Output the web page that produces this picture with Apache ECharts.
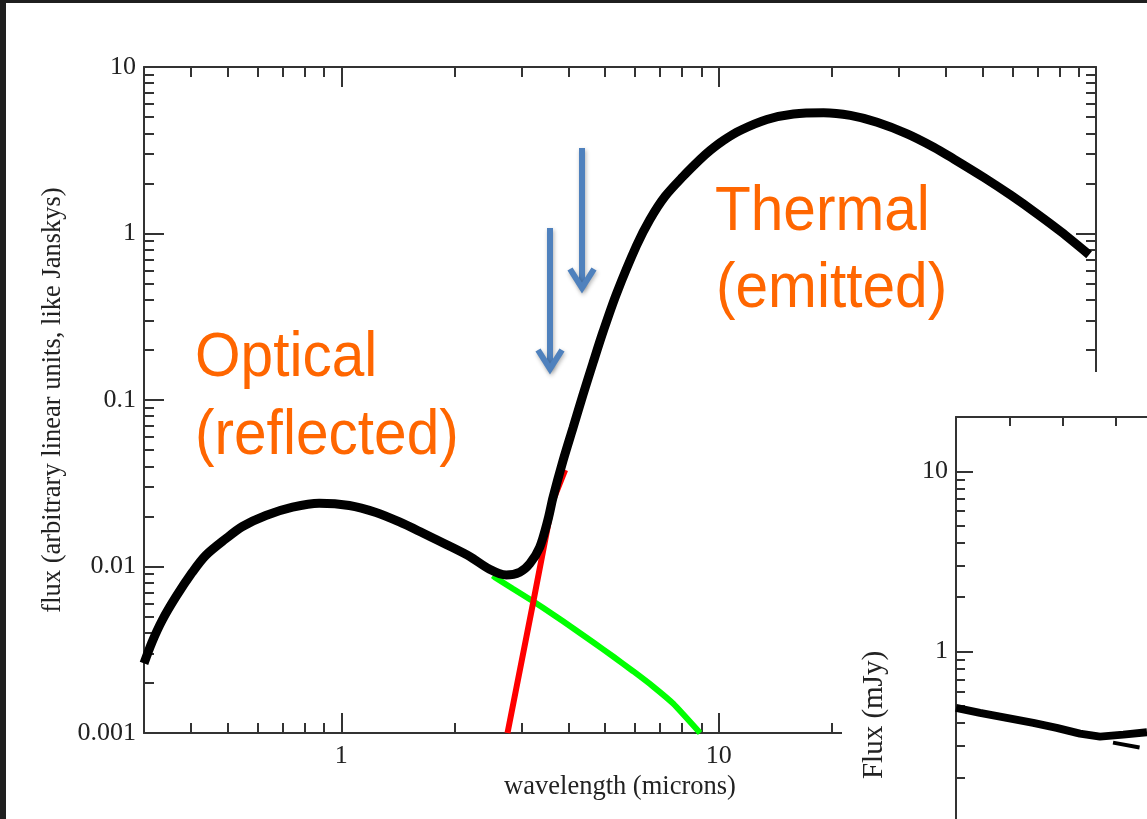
<!DOCTYPE html>
<html>
<head>
<meta charset="utf-8">
<script src="https://cdn.jsdelivr.net/npm/echarts@6/dist/echarts.min.js"></script>
<style>
html,body{margin:0;padding:0;background:#fff;overflow:hidden;}
#c{width:1147px;height:819px;}
</style>
</head>
<body>
<div id="c"></div>
<script>
// ---------- data ----------
// total spectrum (black)
const totalWavelength = [0.30, 0.315, 0.335, 0.364, 0.403, 0.437, 0.494, 0.547, 0.631, 0.743, 0.874, 1.05, 1.236, 1.426, 1.644, 1.897, 2.187, 2.472, 2.737, 2.970, 3.157, 3.356, 3.530, 3.640, 3.870, 4.114, 4.372, 4.649, 4.941, 5.363, 6.060, 6.573, 7.205, 8.045, 8.925, 9.489, 10.29, 11.40, 13.42, 15.79, 18.97, 22.34, 26.29, 31.59, 37.16, 42.01, 50.46, 59.39, 69.95, 80.63, 95.87];
const totalFlux = [0.00262, 0.00351, 0.00474, 0.00654, 0.00924, 0.01165, 0.01467, 0.01739, 0.02025, 0.02271, 0.02400, 0.02325, 0.02110, 0.01851, 0.01589, 0.01356, 0.01150, 0.00962, 0.00889, 0.00924, 0.01038, 0.01306, 0.01915, 0.02600, 0.04331, 0.06837, 0.1079, 0.1680, 0.2578, 0.4361, 0.8470, 1.214, 1.668, 2.199, 2.782, 3.151, 3.619, 4.155, 4.838, 5.221, 5.309, 5.120, 4.660, 3.970, 3.300, 2.800, 2.170, 1.701, 1.309, 1.028, 0.746];
// reflected component (green)
const reflectedWavelength = [2.52, 2.549, 2.850, 3.221, 3.640, 4.114, 4.649, 5.253, 5.935, 6.707, 7.580, 8.93];
const reflectedFlux = [0.0088, 0.00863, 0.00735, 0.00619, 0.00515, 0.00426, 0.00351, 0.00288, 0.00235, 0.00190, 0.00150, 0.00100];
// thermal component (red)
const thermalWavelength = [2.757, 3.221, 3.630, 3.92];
const thermalFlux = [0.001, 0.0060, 0.0245, 0.038];

// inset (partially visible)
const insetX = [0, 0.45, 0.951, 1.449, 1.888, 2.325, 2.700, 3.137, 3.581];
const insetFlux = [0.4867, 0.4564, 0.4281, 0.4016, 0.3768, 0.3503, 0.3371, 0.3458, 0.3561];
const insetDashX = [2.944, 3.825];
const insetDashFlux = [0.3122, 0.2797];

// ticks
const xMajorTicks = [1, 10];
const xMinorTicks = [0.4, 0.5, 0.6, 0.7, 0.8, 0.9, 2, 3, 4, 5, 6, 7, 8, 9, 20, 30, 40, 50, 60, 70, 80, 90];
const xLabelValues = [1, 10];
const xLabelTexts = ['1', '10'];
const yMajorTicks = [0.01, 0.1, 1];
const yMinorTicks = [0.002,0.003,0.004,0.005,0.006,0.007,0.008,0.009,0.02,0.03,0.04,0.05,0.06,0.07,0.08,0.09,0.2,0.3,0.4,0.5,0.6,0.7,0.8,0.9,2,3,4,5,6,7,8,9];
const yLabelValues = [0.001, 0.01, 0.1, 1, 10];
const yLabelTexts = ['0.001', '0.01', '0.1', '1', '10'];
const insetYMajorTicks = [1, 10];
const insetYMinorTicks = [0.1,0.2,0.3,0.4,0.5,0.6,0.7,0.8,0.9,2,3,4,5,6,7,8,9];
const insetYLabelValues = [1, 10];
const insetYLabelTexts = ['1', '10'];

// ---------- helpers ----------
const zip = (a, b) => a.map((v, i) => [v, b[i]]);
function lookup(values, texts) {
  return function (v) {
    for (let i = 0; i < values.length; i++) {
      if (Math.abs(Math.log10(v) - Math.log10(values[i])) < 1e-6) return texts[i];
    }
    return '';
  };
}
const SERIF = "'Liberation Serif', 'Times New Roman', serif";
const AX = '#333';
const TXT = '#222';
const ORANGE_FONT = "63px 'Liberation Sans', Arial, sans-serif";

function logAxis(o) {
  return Object.assign({
    type: 'log', logBase: 10,
    axisLine: { show: false, lineStyle: { color: AX, width: 2 } },
    axisTick: { show: true, inside: true, length: 10, lineStyle: { color: AX, width: 2 } },
    axisLabel: { show: false },
    splitLine: { show: false },
    minorTick: { show: false },
    axisPointer: { show: false }
  }, o);
}
const arrowStyle = { stroke: '#4f81bd', fill: null, lineWidth: 6, lineJoin: 'miter', shadowBlur: 4, shadowOffsetX: 1, shadowOffsetY: 2, shadowColor: 'rgba(0,0,0,0.3)' };

const chart = echarts.init(document.getElementById('c'));

const option = {
  animation: false,
  backgroundColor: '#fff',
  grid: [
    { left: 144, top: 67, width: 952, height: 666, outerBoundsMode: 'none', containLabel: false },
    { left: 956, top: 417, width: 400, height: 595, outerBoundsMode: 'none', containLabel: false }
  ],
  xAxis: [
    logAxis({
      gridIndex: 0, min: 0.3, max: 100, position: 'bottom',
      axisLine: { show: true, lineStyle: { color: AX, width: 2 } },
      axisTick: { show: true, inside: true, length: 20, customValues: xMajorTicks, lineStyle: { color: AX, width: 2 } },
      axisLabel: { show: true, customValues: xLabelValues, formatter: lookup(xLabelValues, xLabelTexts), margin: 10, color: TXT, fontFamily: SERIF, fontSize: 26 },
      name: 'wavelength (microns)', nameLocation: 'middle', nameGap: 35,
      nameTextStyle: { color: TXT, fontFamily: SERIF, fontSize: 26.5 }
    }),
    logAxis({
      gridIndex: 0, min: 0.3, max: 100, position: 'bottom',
      axisTick: { show: true, inside: true, length: 10, customValues: xMinorTicks, lineStyle: { color: AX, width: 2 } }
    }),
    logAxis({
      gridIndex: 0, min: 0.3, max: 100, position: 'top',
      axisLine: { show: true, lineStyle: { color: AX, width: 2 } },
      axisTick: { show: true, inside: true, length: 20, customValues: xMajorTicks, lineStyle: { color: AX, width: 2 } }
    }),
    logAxis({
      gridIndex: 0, min: 0.3, max: 100, position: 'top',
      axisTick: { show: true, inside: true, length: 10, customValues: xMinorTicks, lineStyle: { color: AX, width: 2 } }
    }),
    {
      gridIndex: 1, type: 'value', min: 0, max: 7.5, interval: 1, position: 'top', z: 10,
      axisLine: { show: true, lineStyle: { color: AX, width: 2 } },
      axisTick: { show: true, inside: true, length: 9, lineStyle: { color: AX, width: 2 } },
      axisLabel: { show: false }, splitLine: { show: false }, axisPointer: { show: false }
    }
  ],
  yAxis: [
    logAxis({
      gridIndex: 0, min: 0.001, max: 10, position: 'left',
      axisLine: { show: true, lineStyle: { color: AX, width: 2 } },
      axisTick: { show: true, inside: true, length: 20, customValues: yMajorTicks, lineStyle: { color: AX, width: 2 } },
      axisLabel: { show: true, customValues: yLabelValues, formatter: lookup(yLabelValues, yLabelTexts), margin: 8, padding: [7, 0, 0, 0], color: TXT, fontFamily: SERIF, fontSize: 26 },
      name: 'flux (arbitrary linear units, like Janskys)', nameLocation: 'middle', nameGap: 72, nameRotate: 90,
      nameTextStyle: { color: TXT, fontFamily: SERIF, fontSize: 26.5 }
    }),
    logAxis({
      gridIndex: 0, min: 0.001, max: 10, position: 'left',
      axisTick: { show: true, inside: true, length: 10, customValues: yMinorTicks, lineStyle: { color: AX, width: 2 } }
    }),
    logAxis({
      gridIndex: 0, min: 0.001, max: 10, position: 'right',
      axisLine: { show: true, lineStyle: { color: AX, width: 2 } },
      axisTick: { show: true, inside: true, length: 20, customValues: yMajorTicks, lineStyle: { color: AX, width: 2 } }
    }),
    logAxis({
      gridIndex: 0, min: 0.001, max: 10, position: 'right',
      axisTick: { show: true, inside: true, length: 10, customValues: yMinorTicks, lineStyle: { color: AX, width: 2 } }
    }),
    logAxis({
      gridIndex: 1, min: 0.01, max: 20, position: 'left', z: 10,
      axisLine: { show: true, lineStyle: { color: AX, width: 2 } },
      axisTick: { show: true, inside: true, length: 17, customValues: insetYMajorTicks, lineStyle: { color: AX, width: 2 } },
      axisLabel: { show: true, customValues: insetYLabelValues, formatter: lookup(insetYLabelValues, insetYLabelTexts), margin: 8, color: TXT, fontFamily: SERIF, fontSize: 26 }
    }),
    logAxis({
      gridIndex: 1, min: 0.01, max: 20, position: 'left', z: 10,
      axisTick: { show: true, inside: true, length: 9, customValues: insetYMinorTicks, lineStyle: { color: AX, width: 2 } }
    })
  ],
  series: [
    { name: 'reflected', type: 'line', xAxisIndex: 0, yAxisIndex: 0, data: zip(reflectedWavelength, reflectedFlux), symbol: 'none', smooth: 0.15, z: 3,
      lineStyle: { color: '#00ff00', width: 6 } },
    { name: 'thermal', type: 'line', xAxisIndex: 0, yAxisIndex: 0, data: zip(thermalWavelength, thermalFlux), symbol: 'none', z: 3,
      lineStyle: { color: '#ff0000', width: 6 } },
    { name: 'total', type: 'line', xAxisIndex: 0, yAxisIndex: 0, data: zip(totalWavelength, totalFlux), symbol: 'none', smooth: 0.3, z: 4,
      lineStyle: { color: '#000', width: 9 } },
    { name: 'inset', type: 'line', xAxisIndex: 4, yAxisIndex: 4, data: zip(insetX, insetFlux), symbol: 'none', z: 11,
      lineStyle: { color: '#000', width: 8 } },
    { name: 'inset model', type: 'line', xAxisIndex: 4, yAxisIndex: 4, data: zip(insetDashX, insetDashFlux), symbol: 'none', z: 11,
      lineStyle: { color: '#000', width: 4, type: [27, 14] } }
  ],
  graphic: [
    // white panel of the inset figure, covering the main plot's corner
    { type: 'rect', z: 5, silent: true, shape: { x: 842, y: 372, width: 305, height: 447 }, style: { fill: '#fff' } },
    { type: 'text', z: 12, x: 874, y: 715, rotation: Math.PI / 2,
      style: { text: 'Flux (mJy)', textAlign: 'center', textVerticalAlign: 'middle', font: "29px 'Liberation Serif', serif", fill: TXT } },
    // orange annotations
    { type: 'text', z: 20, x: 195, y: 359, scaleX: 0.93, style: { text: 'Optical', textAlign: 'left', textVerticalAlign: 'middle', font: ORANGE_FONT, fill: '#ff6600' } },
    { type: 'text', z: 20, x: 195, y: 437, scaleX: 0.93, style: { text: '(reflected)', textAlign: 'left', textVerticalAlign: 'middle', font: ORANGE_FONT, fill: '#ff6600' } },
    { type: 'text', z: 20, x: 715, y: 213, scaleX: 0.93, style: { text: 'Thermal', textAlign: 'left', textVerticalAlign: 'middle', font: ORANGE_FONT, fill: '#ff6600' } },
    { type: 'text', z: 20, x: 716, y: 290, scaleX: 0.93, style: { text: '(emitted)', textAlign: 'left', textVerticalAlign: 'middle', font: ORANGE_FONT, fill: '#ff6600' } },
    // blue arrows
    { type: 'line', z: 20, shape: { x1: 550, y1: 228, x2: 550, y2: 368 }, style: arrowStyle },
    { type: 'polyline', z: 20, shape: { points: [[538, 350], [550, 369], [562, 350]] }, style: arrowStyle },
    { type: 'line', z: 20, shape: { x1: 582, y1: 148, x2: 582, y2: 287 }, style: arrowStyle },
    { type: 'polyline', z: 20, shape: { points: [[570, 269], [582, 288], [594, 269]] }, style: arrowStyle },
    // dark slide border
    { type: 'rect', z: 30, silent: true, shape: { x: 0, y: 0, width: 1147, height: 3 }, style: { fill: '#1f1f1f' } },
    { type: 'rect', z: 30, silent: true, shape: { x: 0, y: 0, width: 6, height: 819 }, style: { fill: '#1f1f1f' } }
  ]
};
chart.setOption(option);
</script>
</body>
</html>
